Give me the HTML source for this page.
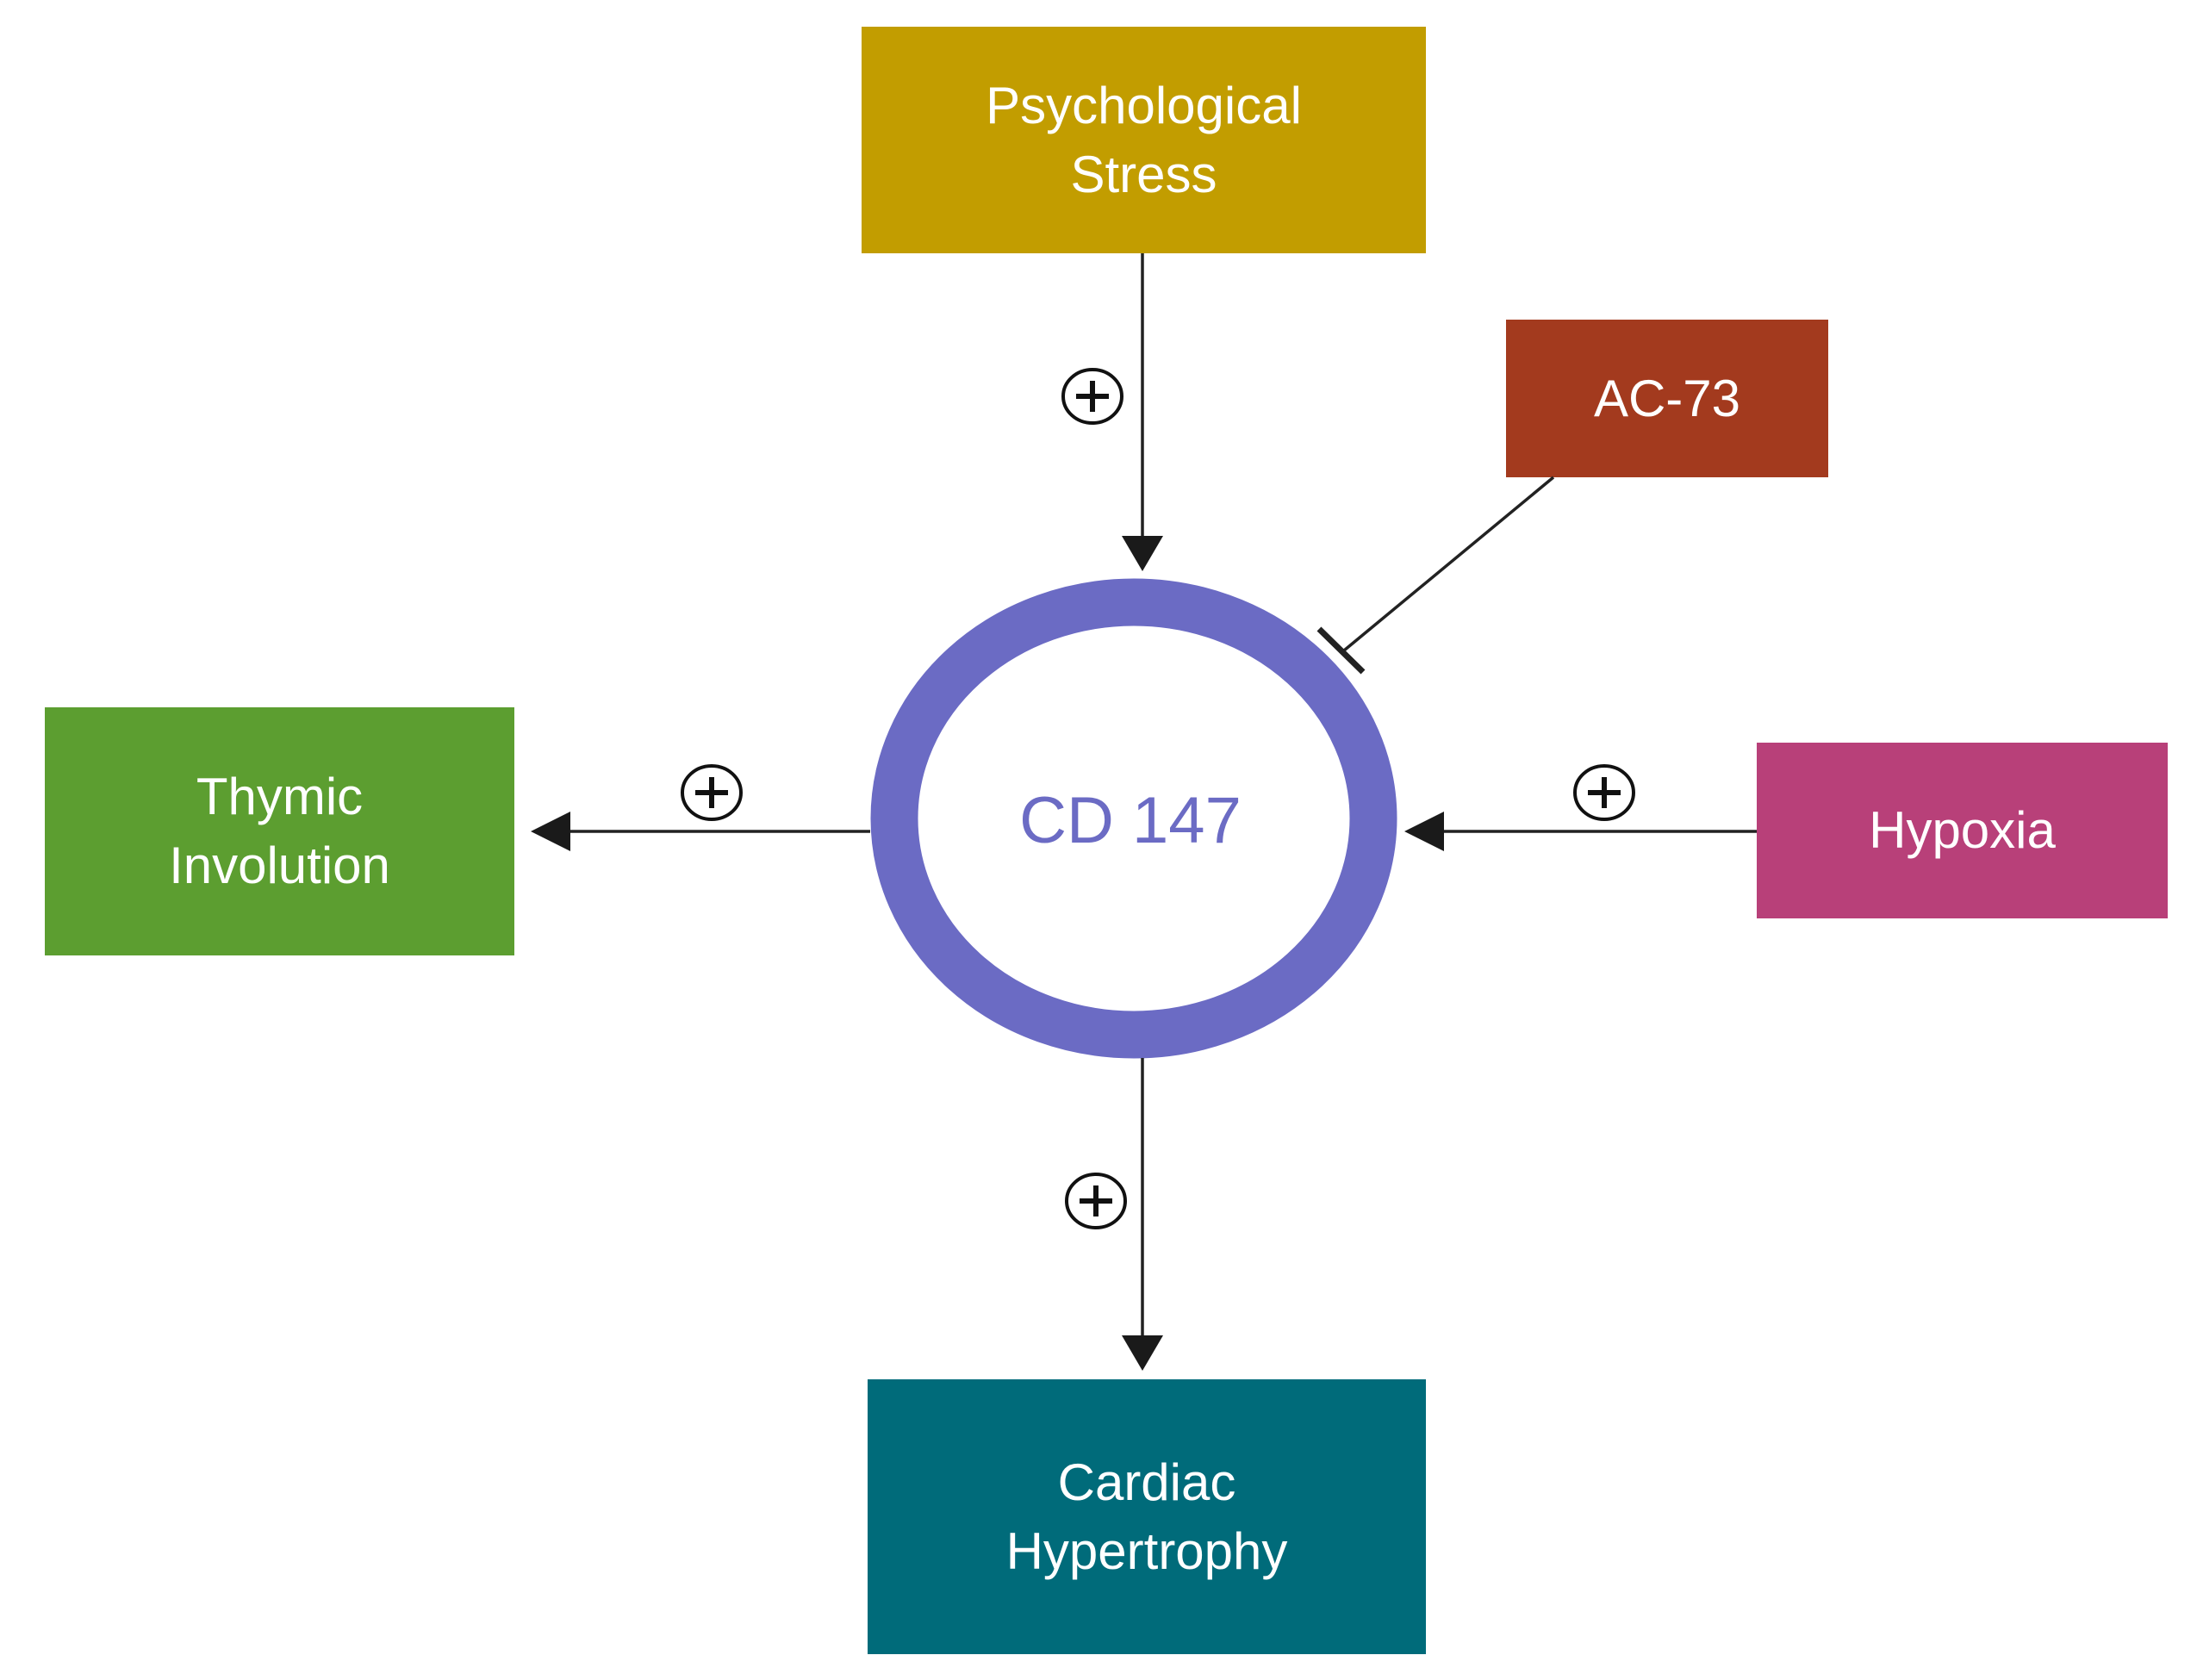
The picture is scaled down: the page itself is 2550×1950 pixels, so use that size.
<!DOCTYPE html>
<html><head><meta charset="utf-8"><style>
body{margin:0;background:#fff;}
.b{position:absolute;display:flex;align-items:center;justify-content:center;text-align:center;color:#fff;font-family:"Liberation Sans",sans-serif;font-size:60px;line-height:80px;}
</style></head><body>
<div style="position:relative;width:2550px;height:1950px;overflow:hidden">
<div class="b" style="left:1000px;top:31px;width:655px;height:263px;background:#C29D00">Psychological<br>Stress</div>
<div class="b" style="left:1748px;top:371px;width:374px;height:183px;background:#A33A1E">AC-73</div>
<div class="b" style="left:52px;top:821px;width:545px;height:288px;background:#5C9E30">Thymic<br>Involution</div>
<div class="b" style="left:2039px;top:862px;width:477px;height:204px;background:#B84079">Hypoxia</div>
<div class="b" style="left:1007px;top:1601px;width:648px;height:319px;background:#006B7A">Cardiac<br>Hypertrophy</div>
<svg width="2550" height="1950" style="position:absolute;left:0;top:0">
<ellipse cx="1316" cy="950" rx="278" ry="251" fill="none" stroke="#6B6BC4" stroke-width="55"/>
<text x="1312" y="978" text-anchor="middle" font-family="Liberation Sans, sans-serif" font-size="76" fill="#6B6BC4">CD 147</text>
<g stroke="#222" stroke-width="3.5" fill="none">
<line x1="1326" y1="294" x2="1326" y2="630"/>
<line x1="1326" y1="1228" x2="1326" y2="1555"/>
<line x1="1010" y1="965" x2="655" y2="965"/>
<line x1="2039" y1="965" x2="1670" y2="965"/>
<line x1="1803" y1="554" x2="1560" y2="755"/>
<line x1="1531" y1="730" x2="1582" y2="780" stroke-width="7"/>
</g>
<g fill="#1a1a1a">
<polygon points="1302,622 1350,622 1326,663"/>
<polygon points="1302,1550 1350,1550 1326,1591"/>
<polygon points="662,942 662,988 616,965"/>
<polygon points="1676,942 1676,988 1630,965"/>
</g>
<g stroke="#111" fill="none">
<g transform="translate(1268,460)"><ellipse rx="34" ry="31" stroke-width="4"/><path d="M-19 0H19M0-18V18" stroke-width="6"/></g>
<g transform="translate(1272,1394)"><ellipse rx="34" ry="31" stroke-width="4"/><path d="M-19 0H19M0-18V18" stroke-width="6"/></g>
<g transform="translate(826,920)"><ellipse rx="34" ry="31" stroke-width="4"/><path d="M-19 0H19M0-18V18" stroke-width="6"/></g>
<g transform="translate(1862,920)"><ellipse rx="34" ry="31" stroke-width="4"/><path d="M-19 0H19M0-18V18" stroke-width="6"/></g>
</g>
</svg>
</div>
</body></html>
